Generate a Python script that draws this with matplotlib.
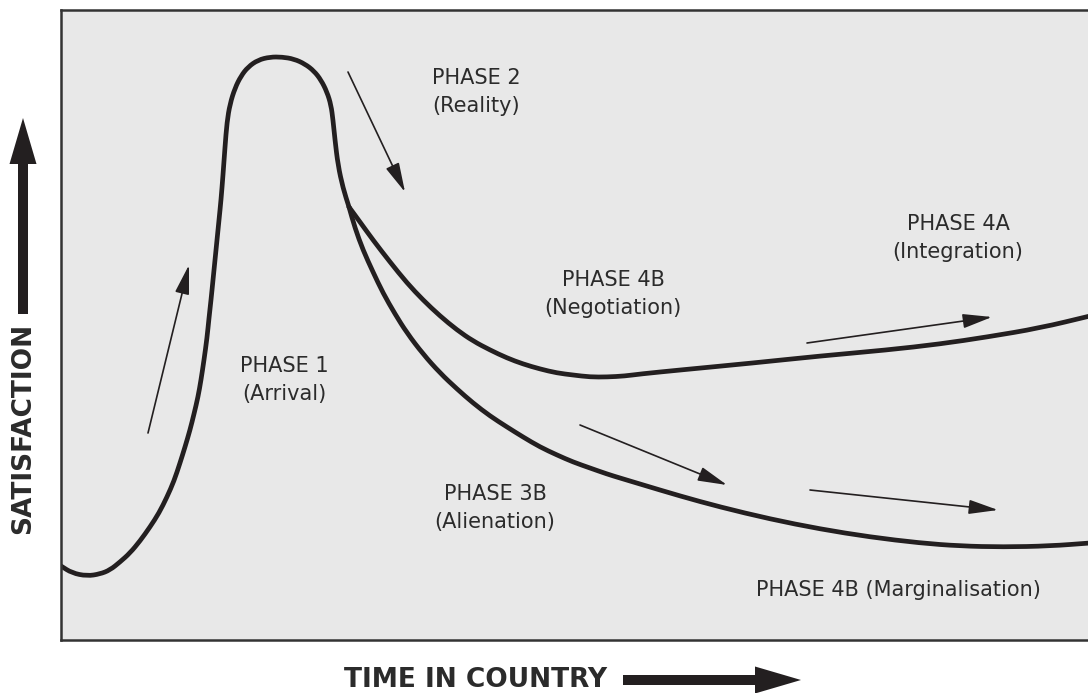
import matplotlib
matplotlib.use("Agg")
import matplotlib.pyplot as plt
from matplotlib.path import Path
from matplotlib.patches import PathPatch

W, H = 1088, 693

# curve points (x to the right, y downwards, in pixels)
rise_x = [61, 72, 87, 100, 110, 120, 130, 140, 150, 159, 167, 174, 180, 185,
          190, 194, 198, 201, 204, 207, 209, 211, 213, 215, 217, 219, 221,
          223, 225, 227, 230, 235, 241, 248, 258, 270, 282, 294, 305, 314,
          321, 327, 331, 333, 335, 338, 343, 349]
rise_y = [566, 573, 576, 574, 570, 562, 553, 541, 527, 513, 497, 481, 463, 447,
          430, 414, 397, 380, 360, 338, 318, 300, 280, 260, 240, 220, 200,
          175, 147, 122, 104, 88, 76, 67, 60, 57, 57, 59, 64, 71,
          80, 92, 105, 120, 140, 165, 188, 207]

upper_x = [349, 360, 373, 390, 407, 423, 440, 457, 473, 490, 507, 523, 540,
           557, 573, 590, 607, 625, 640, 680, 753, 820, 887, 940, 987, 1040,
           1090]
upper_y = [207, 222, 240, 262, 283, 300, 316, 330, 341, 350, 358, 364, 369,
           373, 375, 377, 377, 376, 374, 370, 363, 356, 350, 344, 337, 328,
           316]

lower_x = [349, 355, 363, 373, 383, 395, 407, 423, 440, 457, 473, 490, 507,
           523, 540, 557, 573, 590, 607, 620, 640, 680, 720, 770, 820, 870,
           920, 960, 1003, 1050, 1090]
lower_y = [207, 228, 250, 272, 293, 314, 333, 354, 373, 389, 403, 416, 427,
           437, 447, 455, 462, 468, 474, 478, 484, 496, 507, 519, 529, 537,
           543, 546, 547, 546, 543]

# small direction arrows: (tail_x, tail_y, head_x, head_y)
arrows = [
    (148, 433, 189, 265),
    (348, 72, 405, 192),
    (807, 343, 992, 317),
    (580, 425, 727, 485),
    (810, 490, 998, 510),
]

labels = [
    ("PHASE 2\n(Reality)", 476, 92),
    ("PHASE 1\n(Arrival)", 284, 380),
    ("PHASE 4B\n(Negotiation)", 613, 294),
    ("PHASE 4A\n(Integration)", 958, 238),
    ("PHASE 3B\n(Alienation)", 495, 508),
    ("PHASE 4B (Marginalisation)", 898, 590),
]

ink = "#231f20"
text_col = "#2b2b2b"


def smooth_path(xs, ys):
    # quadratic b-spline style path: read points act as control points
    pts = list(zip(xs, ys))
    verts = [pts[0]]
    codes = [Path.MOVETO]
    mid = ((pts[0][0] + pts[1][0]) / 2, (pts[0][1] + pts[1][1]) / 2)
    verts.append(mid)
    codes.append(Path.LINETO)
    for i in range(1, len(pts) - 1):
        nxt = ((pts[i][0] + pts[i + 1][0]) / 2, (pts[i][1] + pts[i + 1][1]) / 2)
        verts += [pts[i], nxt]
        codes += [Path.CURVE3, Path.CURVE3]
    verts.append(pts[-1])
    codes.append(Path.LINETO)
    return Path(verts, codes)


fig = plt.figure(figsize=(W / 100, H / 100), dpi=100)

left, top, bottom = 61, 10, 640
ax = fig.add_axes([left / W, (H - bottom) / H, (W - left) / W, (bottom - top) / H])
ax.set_xlim(left, W)
ax.set_ylim(bottom, top)
ax.set_facecolor("#e8e8e8")
ax.set_xticks([])
ax.set_yticks([])
for side in ["left", "top", "bottom"]:
    ax.spines[side].set_linewidth(1.8)
    ax.spines[side].set_color("#333333")
ax.spines["right"].set_visible(False)

for xs, ys in [(rise_x, rise_y), (upper_x, upper_y), (lower_x, lower_y)]:
    ax.add_patch(PathPatch(smooth_path(xs, ys), facecolor="none",
                           edgecolor=ink, lw=3.4, capstyle="round",
                           joinstyle="round"))

for x0, y0, x1, y1 in arrows:
    ax.annotate("", xy=(x1, y1), xytext=(x0, y0),
                arrowprops=dict(arrowstyle="-|>,head_length=0.9,head_width=0.22",
                                color=ink, lw=1.2, mutation_scale=20,
                                shrinkA=0, shrinkB=0))

for txt, x, y in labels:
    ax.text(x, y, txt, ha="center", va="center", fontsize=15,
            color=text_col, linespacing=1.45, family="DejaVu Sans")

# overlay in pixel coordinates for axis titles and big arrows
ov = fig.add_axes([0, 0, 1, 1], facecolor="none")
ov.set_xlim(0, W)
ov.set_ylim(H, 0)
ov.axis("off")

ov.text(23, 428, "SATISFACTION", rotation=90, ha="center", va="center",
        fontsize=19, fontweight="bold", color=text_col)
ov.arrow(23, 314, 0, -150, width=10, head_width=27, head_length=46,
         length_includes_head=False, color=ink, lw=0)

ov.text(476, 680, "TIME IN COUNTRY", ha="center", va="center",
        fontsize=19, fontweight="bold", color=text_col)
ov.arrow(623, 680, 132, 0, width=10, head_width=27, head_length=46,
         length_includes_head=False, color=ink, lw=0)

fig.savefig("out.png", dpi=100)
